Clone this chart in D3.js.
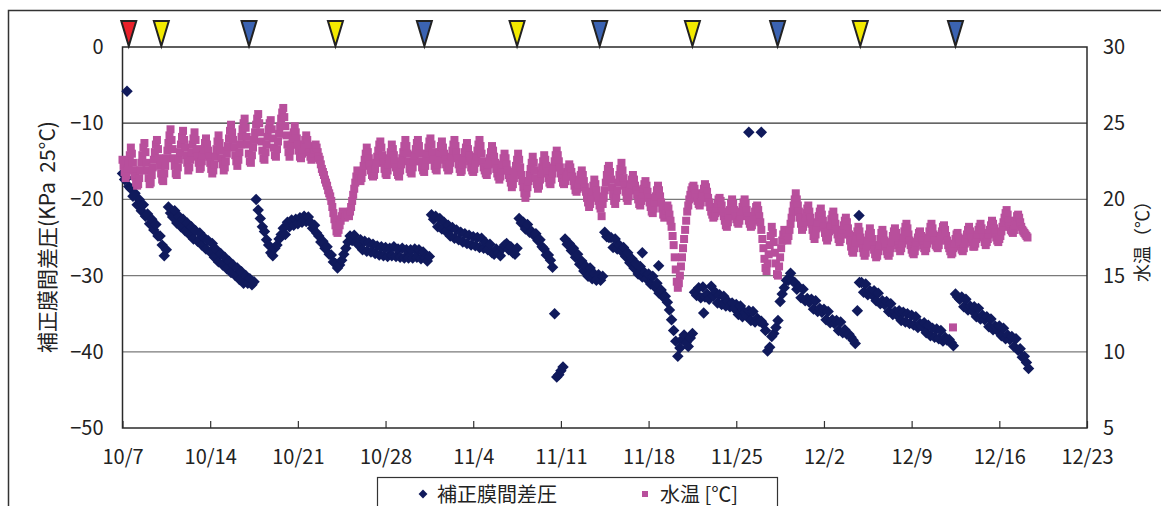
<!DOCTYPE html>
<html>
<head>
<meta charset="utf-8">
<script src="https://cdn.jsdelivr.net/npm/d3@7"></script>
<style>
  body { margin: 0; background: #fff; }
  text { font-family: "Noto Sans CJK JP", "Noto Sans", sans-serif; fill: #222; }
</style>
</head>
<body>
<svg id="chart" width="1161" height="506"></svg>
<script>
/* ---------- data ---------- */
const startDate = new Date(2009, 9, 7);    // 10/7
const endDate   = new Date(2009, 11, 23);  // 12/23
const pressureStepHours = 4;               // 6 readings per day
const tempStepHours     = 2;               // 12 readings per day

// 補正膜間差圧 [kPa], one row per day starting 10/7
const pressureByDay = [
  [-16.6, -17.4, -17.2, -18.3, -18.6, -19.6],
  [-19.2, -20.7, -20.0, -21.5, -20.7, -22.2],
  [-21.9, -23.2, -22.6, -24.0, -23.3, -24.8],
  [-24.8, -26.0, -27.4, -26.6, -21.0, -21.8],
  [-22.3, -21.5, -23.1, -22.2, -23.6, -22.6],
  [-24.1, -23.1, -24.6, -23.6, -25.2, -24.1],
  [-25.5, -24.4, -26.0, -25.0, -26.5, -25.4],
  [-26.9, -25.8, -27.6, -26.6, -28.2, -27.1],
  [-28.6, -27.6, -29.1, -28.1, -29.6, -28.6],
  [-30.0, -29.0, -30.5, -29.5, -31.0, -30.0],
  [-31.0, -30.4, -31.2, -30.8, -20.0, -21.4],
  [-22.5, -23.6, -24.2, -25.3, -26.0, -27.0],
  [-27.4, -26.4, -26.0, -25.2, -24.6, -23.8],
  [-24.6, -23.0, -23.6, -22.7, -23.4, -22.6],
  [-23.2, -22.4, -23.0, -22.2, -22.9, -22.3],
  [-23.0, -23.8, -23.4, -24.4, -24.8, -25.6],
  [-25.5, -26.4, -26.2, -27.2, -27.3, -28.2],
  [-28.4, -29.0, -28.6, -28.0, -27.2, -26.4],
  [-25.6, -24.8, -25.4, -24.7, -25.6, -26.0],
  [-25.3, -26.6, -25.5, -26.8, -25.7, -26.9],
  [-25.9, -27.1, -26.1, -27.3, -26.2, -27.4],
  [-26.3, -27.5, -26.4, -27.4, -26.2, -27.5],
  [-26.5, -27.6, -26.4, -27.7, -26.6, -27.7],
  [-26.6, -27.7, -26.5, -27.6, -26.6, -27.8],
  [-26.9, -27.7, -28.1, -27.5, -22.0, -22.6],
  [-22.2, -23.6, -22.5, -23.9, -23.0, -24.2],
  [-23.4, -24.8, -23.7, -25.1, -24.0, -25.3],
  [-24.3, -25.6, -24.5, -25.8, -24.7, -26.0],
  [-24.9, -26.1, -25.0, -26.3, -25.1, -26.4],
  [-25.7, -26.6, -25.9, -27.0, -27.2, -26.5],
  [-27.0, -27.4, -26.4, -26.0, -25.8, -26.6],
  [-26.2, -27.0, -27.2, -26.4, -22.5, -23.1],
  [-23.0, -23.9, -23.3, -24.3, -24.2, -24.7],
  [-24.5, -25.4, -25.3, -26.2, -26.5, -27.3],
  [-27.3, -28.0, -28.9, -35.0, -43.3, -43.0],
  [-42.5, -42.0, -25.2, -25.9, -25.8, -26.7],
  [-26.4, -27.6, -27.2, -28.5, -28.1, -29.4],
  [-28.8, -30.1, -29.0, -30.4, -29.8, -30.6],
  [-29.9, -30.6, -30.1, -24.3, -24.9, -25.0],
  [-25.0, -26.3, -25.2, -26.5, -26.0, -26.8],
  [-26.3, -27.5, -27.0, -28.3, -27.8, -29.0],
  [-28.4, -29.8, -28.8, -30.2, -29.6, -30.4],
  [-29.8, -31.1, -30.1, -31.5, -31.0, -32.3],
  [-31.9, -32.8, -32.7, -33.5, -34.5, -35.8],
  [-37.2, -38.6, -40.6, -39.5, -38.4, -37.8],
  [-38.8, -39.3, -38.2, -37.6, -32.2, -32.6],
  [-31.6, -32.9, -31.5, -32.8, -32.4, -33.1],
  [-31.4, -32.7, -32.2, -33.6, -32.5, -33.8],
  [-32.7, -34.0, -33.4, -34.1, -33.6, -34.3],
  [-33.8, -35.1, -34.0, -35.4, -34.8, -35.3],
  [-34.6, -35.9, -34.7, -36.1, -35.6, -36.0],
  [-36.0, -36.4, -37.2, -39.9, -39.4, -38.0],
  [-37.6, -36.8, -35.9, -33.4, -32.4, -31.6],
  [-30.6, -30.6, -29.7, -30.7, -30.9, -31.8],
  [-31.5, -32.9, -31.8, -33.3, -33.0, -33.5],
  [-33.1, -34.4, -33.3, -34.7, -34.3, -34.8],
  [-34.4, -35.8, -34.7, -36.2, -35.8, -36.3],
  [-35.9, -37.2, -36.1, -37.5, -37.1, -37.7],
  [-37.7, -38.1, -38.5, -38.9, -34.6, -30.9],
  [-30.9, -32.2, -31.1, -32.5, -32.0, -32.5],
  [-32.0, -33.3, -32.3, -33.7, -33.3, -33.8],
  [-33.4, -34.7, -33.7, -35.1, -34.7, -35.2],
  [-34.6, -35.9, -34.8, -36.1, -35.0, -36.3],
  [-35.2, -36.5, -35.4, -36.8, -36.3, -36.7],
  [-36.2, -37.5, -36.5, -37.9, -36.9, -38.1],
  [-37.0, -38.3, -37.2, -38.6, -38.1, -38.5],
  [-38.4, -38.8, -39.2, -32.4, -32.8, -33.1],
  [-32.8, -34.1, -33.1, -34.5, -34.0, -34.6],
  [-34.1, -35.4, -34.3, -35.7, -35.2, -35.8],
  [-35.4, -36.7, -35.7, -37.1, -36.6, -37.2],
  [-36.6, -37.9, -36.9, -38.3, -37.8, -38.4],
  [-38.0, -39.3, -38.3, -39.8, -39.6, -40.7],
  [-40.6, -41.4, -42.2]
];

// 水温 [℃], one row per day starting 10/7
const tempByDay = [
  [22.6, 22.2, 21.8, 21.4, 21.6, 22.0, 22.4, 22.9, 23.4, 23.0, 22.4, 21.9],
  [21.5, 21.1, 20.9, 21.0, 21.4, 21.9, 22.4, 22.9, 23.4, 23.7, 23.1, 22.4],
  [21.9, 21.4, 21.0, 21.1, 21.6, 22.1, 22.6, 23.1, 23.6, 23.9, 23.3, 22.7],
  [22.2, 21.7, 21.3, 21.2, 21.7, 22.2, 22.7, 23.2, 23.7, 24.2, 24.6, 23.9],
  [23.3, 22.7, 22.2, 21.7, 21.6, 22.1, 22.6, 23.1, 23.6, 24.1, 24.5, 23.9],
  [23.4, 22.9, 22.4, 21.9, 22.1, 22.6, 23.1, 23.6, 24.0, 24.4, 23.9, 23.3],
  [22.8, 22.4, 22.0, 22.1, 22.5, 22.9, 23.3, 23.7, 24.0, 23.6, 23.2, 22.8],
  [22.4, 22.0, 21.7, 21.9, 22.3, 22.8, 23.3, 23.8, 24.2, 23.7, 23.2, 22.7],
  [22.3, 21.9, 22.1, 22.5, 23.0, 23.5, 24.0, 24.5, 24.9, 24.4, 23.9, 23.4],
  [22.9, 22.5, 22.2, 22.6, 23.1, 23.6, 24.1, 24.6, 25.0, 25.3, 24.7, 24.1],
  [23.6, 23.0, 22.5, 22.4, 22.9, 23.4, 23.9, 24.4, 24.9, 25.3, 25.6, 25.0],
  [24.4, 23.8, 23.2, 22.7, 22.6, 23.1, 23.6, 24.1, 24.6, 25.0, 25.2, 24.6],
  [24.0, 23.4, 22.9, 22.8, 23.3, 23.8, 24.3, 24.8, 25.3, 25.7, 26.0, 25.4],
  [24.8, 24.2, 23.6, 23.1, 22.8, 23.2, 23.6, 24.0, 24.4, 24.8, 24.4, 24.0],
  [23.6, 23.2, 22.8, 22.7, 23.0, 23.3, 23.6, 23.9, 24.2, 23.9, 23.5, 23.1],
  [22.8, 22.6, 22.7, 23.0, 23.3, 23.6, 23.4, 23.1, 22.8, 22.6, 22.3, 22.0],
  [21.8, 21.6, 21.3, 21.1, 20.9, 20.6, 20.4, 20.2, 19.9, 19.5, 19.1, 18.7],
  [18.3, 17.9, 17.8, 18.0, 18.3, 18.6, 18.9, 19.2, 19.0, 18.8, 18.9, 19.1],
  [19.0, 18.9, 19.2, 19.5, 19.9, 20.3, 20.7, 21.1, 21.5, 21.9, 21.7, 21.4],
  [21.2, 21.4, 21.8, 22.2, 22.6, 23.0, 23.4, 23.1, 22.7, 22.3, 21.9, 21.6],
  [21.5, 21.6, 22.0, 22.4, 22.8, 23.2, 23.6, 23.8, 23.4, 22.9, 22.4, 22.0],
  [21.7, 21.6, 21.9, 22.3, 22.7, 23.1, 23.6, 23.3, 22.9, 22.5, 22.1, 21.8],
  [21.6, 21.5, 21.9, 22.3, 22.7, 23.1, 23.5, 23.9, 23.5, 23.0, 22.5, 22.0],
  [21.8, 21.7, 22.1, 22.5, 22.9, 23.3, 23.7, 23.9, 23.5, 23.0, 22.5, 22.1],
  [21.9, 21.8, 22.2, 22.6, 23.0, 23.4, 23.8, 24.0, 23.6, 23.1, 22.6, 22.2],
  [22.0, 21.9, 22.3, 22.7, 23.1, 23.5, 23.8, 23.4, 23.0, 22.6, 22.3, 22.1],
  [21.9, 22.0, 22.4, 22.8, 23.2, 23.6, 23.9, 23.5, 23.1, 22.7, 22.3, 22.0],
  [21.8, 21.9, 22.3, 22.7, 23.1, 23.4, 23.7, 23.3, 22.9, 22.5, 22.1, 21.9],
  [21.8, 22.0, 22.4, 22.8, 23.2, 23.6, 23.9, 23.5, 23.0, 22.5, 22.1, 21.9],
  [21.7, 21.6, 21.9, 22.3, 22.7, 23.1, 23.5, 23.2, 22.8, 22.4, 22.0, 21.7],
  [21.5, 21.3, 21.5, 21.9, 22.3, 22.7, 23.0, 22.7, 22.3, 21.9, 21.6, 21.4],
  [21.1, 20.8, 21.0, 21.4, 21.8, 22.2, 22.6, 23.0, 22.6, 22.1, 21.6, 21.2],
  [20.8, 20.4, 20.1, 20.4, 20.8, 21.2, 21.6, 22.0, 22.4, 22.8, 22.4, 21.9],
  [21.4, 21.0, 20.7, 20.9, 21.3, 21.7, 22.1, 22.5, 22.9, 22.6, 22.2, 21.8],
  [21.4, 21.1, 21.0, 21.3, 21.7, 22.1, 22.5, 22.9, 23.2, 22.9, 22.5, 22.1],
  [21.7, 21.4, 21.1, 21.0, 21.2, 21.5, 21.8, 22.1, 22.3, 22.1, 21.8, 21.5],
  [21.2, 20.9, 20.6, 20.5, 20.7, 21.0, 21.3, 21.6, 21.9, 21.6, 21.2, 20.8],
  [20.5, 20.1, 19.8, 19.5, 19.7, 20.1, 20.5, 20.9, 21.3, 21.0, 20.6, 20.2],
  [19.9, 19.6, 19.4, 18.9, 19.7, 20.1, 20.6, 21.1, 21.6, 22.0, 22.2, 21.8],
  [21.3, 20.8, 20.3, 19.9, 19.7, 20.1, 20.6, 21.1, 21.6, 22.0, 22.4, 21.9],
  [21.4, 20.9, 20.5, 20.1, 19.9, 20.2, 20.6, 21.0, 21.3, 21.6, 21.3, 20.9],
  [20.6, 20.3, 20.0, 19.7, 19.6, 19.9, 20.3, 20.7, 21.0, 21.2, 20.9, 20.5],
  [20.1, 19.8, 19.5, 19.2, 19.1, 19.4, 19.8, 20.2, 20.6, 20.9, 20.6, 20.2],
  [19.8, 19.4, 19.0, 18.8, 19.0, 19.3, 19.6, 19.4, 19.0, 18.6, 18.2, 17.6],
  [17.0, 16.2, 15.4, 14.6, 14.2, 14.5, 15.0, 15.6, 16.2, 16.8, 17.4, 18.0],
  [18.6, 19.2, 19.6, 20.0, 20.3, 20.6, 20.8, 20.9, 20.7, 20.4, 20.1, 19.9],
  [19.7, 19.6, 19.8, 20.1, 20.4, 20.7, 21.0, 20.8, 20.5, 20.1, 19.8, 19.5],
  [19.2, 19.0, 18.8, 18.9, 19.1, 19.4, 19.7, 20.0, 20.1, 19.9, 19.6, 19.2],
  [18.9, 18.6, 18.3, 18.2, 18.5, 18.9, 19.3, 19.7, 20.0, 19.7, 19.3, 18.9],
  [18.7, 18.5, 18.4, 18.6, 18.9, 19.2, 19.5, 19.8, 20.0, 19.7, 19.3, 18.9],
  [18.6, 18.4, 18.2, 18.3, 18.6, 18.9, 19.2, 19.5, 19.6, 19.3, 18.9, 18.5],
  [18.0, 17.4, 16.8, 16.1, 15.5, 15.3, 15.8, 16.4, 17.0, 17.6, 18.2, 17.8],
  [17.2, 16.5, 15.8, 15.1, 15.0, 15.6, 16.2, 16.8, 17.3, 17.7, 18.0, 17.8],
  [17.5, 17.3, 17.6, 18.0, 18.4, 18.8, 19.2, 19.6, 20.0, 20.4, 20.0, 19.6],
  [19.2, 18.8, 18.4, 18.0, 18.2, 18.5, 18.8, 19.1, 19.4, 19.6, 19.2, 18.8],
  [18.4, 18.0, 17.6, 17.4, 17.7, 18.1, 18.5, 18.9, 19.2, 19.4, 19.0, 18.6],
  [18.2, 17.8, 17.5, 17.3, 17.5, 17.9, 18.3, 18.7, 19.0, 19.2, 18.8, 18.4],
  [18.0, 17.7, 17.4, 17.2, 17.4, 17.7, 18.0, 18.3, 18.6, 18.8, 18.5, 18.1],
  [17.7, 17.3, 16.9, 16.6, 16.5, 16.8, 17.2, 17.6, 17.9, 18.2, 17.9, 17.5],
  [17.1, 16.8, 16.5, 16.3, 16.5, 16.9, 17.3, 17.7, 18.1, 17.8, 17.4, 17.0],
  [16.7, 16.4, 16.2, 16.3, 16.6, 17.0, 17.4, 17.8, 18.0, 17.7, 17.3, 16.9],
  [16.6, 16.4, 16.3, 16.5, 16.8, 17.2, 17.6, 17.9, 18.1, 17.8, 17.4, 17.0],
  [16.8, 16.6, 16.8, 17.1, 17.5, 17.9, 18.2, 18.4, 18.1, 17.7, 17.3, 17.0],
  [16.7, 16.5, 16.4, 16.6, 16.9, 17.2, 17.5, 17.8, 17.9, 17.6, 17.3, 17.0],
  [16.8, 16.6, 16.8, 17.1, 17.5, 17.9, 18.2, 18.4, 18.1, 17.7, 17.3, 17.0],
  [16.9, 16.8, 17.0, 17.3, 17.6, 17.9, 18.2, 18.3, 18.0, 17.6, 17.3, 17.0],
  [16.8, 16.6, 16.4, 16.5, 16.8, 17.1, 17.4, 17.7, 17.8, 17.5, 17.2, 16.9],
  [16.7, 16.6, 16.8, 17.1, 17.4, 17.7, 18.0, 18.2, 17.9, 17.5, 17.2, 16.9],
  [16.9, 17.1, 17.4, 17.7, 18.0, 18.2, 18.4, 18.1, 17.8, 17.5, 17.2, 17.0],
  [17.2, 17.4, 17.7, 18.0, 18.3, 18.6, 18.4, 18.1, 17.8, 17.5, 17.3, 17.2],
  [17.4, 17.6, 17.9, 18.2, 18.5, 18.8, 19.1, 19.3, 19.0, 18.6, 18.2, 18.0],
  [17.9, 17.8, 18.0, 18.3, 18.6, 18.9, 19.0, 18.8, 18.5, 18.2, 18.0, 17.9],
  [17.8, 17.7, 17.6, 17.5]
];

// isolated readings: [days after 10/7, value]
const pressureOutliers = [[0.36, -5.8], [41.5, -27.0], [42.8, -28.7], [46.4, -34.9],
                          [50.0, -11.2], [51.0, -11.2], [58.8, -22.1]];
const tempOutliers = [[66.3, 11.6]];

// event markers along the top: [days after 10/7], kind r/y/b
const markerDays  = [0.5, 3.1, 10.1, 17.0, 24.1, 31.5, 38.1, 45.5, 52.3, 58.9, 66.5];
const markerKinds = ["r", "y", "b", "y", "b", "y", "b", "y", "b", "y", "b"];

const leftTicks  = [0, -10, -20, -30, -40, -50];
const rightTicks = [30, 25, 20, 15, 10, 5];
const xTickDays  = [0, 7, 14, 21, 28, 35, 42, 49, 56, 63, 70, 77];

const seriesNames = ["補正膜間差圧", "水温 [℃]"];
const leftTitle  = "補正膜間差圧(KPa  25°C)";
const rightTitle = "水温（℃）";

/* ---------- layout ---------- */
const W = 1161, H = 506;
const plot = {left: 122.5, right: 1087, top: 47, bottom: 428};
const navy = "#101a5c", magenta = "#b84f9c";
const markerFill = {r: "#e8202a", y: "#f3ea00", b: "#3b63b2"};

const svg = d3.select("#chart");
svg.append("rect").attr("width", W).attr("height", H).attr("fill", "#fff");

// outer frame (runs past right / bottom edge as in the original)
svg.append("rect")
  .attr("x", 8.5).attr("y", 10.5).attr("width", 1200).attr("height", 520)
  .attr("fill", "none").attr("stroke", "#333").attr("stroke-width", 1.5);

const dayToDate = d => d3.timeMinute.offset(startDate, Math.round(d * 1440));

const x  = d3.scaleTime([startDate, endDate], [plot.left, plot.right]);
const yL = d3.scaleLinear([-50, 0], [plot.bottom, plot.top]);
const yR = d3.scaleLinear([5, 30], [plot.bottom, plot.top]);

/* ——— grid ——— */
svg.append("g").selectAll("line")
  .data(leftTicks.filter(v => v > -50 && v < 0))
  .join("line")
    .attr("x1", plot.left).attr("x2", plot.right)
    .attr("y1", d => yL(d)).attr("y2", d => yL(d))
    .attr("stroke", d => d === -10 ? "#333" : "#7a7a7a")
    .attr("stroke-width", 1.3);

/* ——— axes ——— */
const fmtMinus = d => d < 0 ? "\u2212" + Math.abs(d) : String(d);

const axL = svg.append("g")
  .attr("transform", `translate(${plot.left},0)`)
  .call(d3.axisLeft(yL).tickValues(leftTicks).tickSize(0).tickPadding(19).tickFormat(fmtMinus));
const axR = svg.append("g")
  .attr("transform", `translate(${plot.right},0)`)
  .call(d3.axisRight(yR).tickValues(rightTicks).tickSize(0).tickPadding(16));
const axB = svg.append("g")
  .attr("transform", `translate(0,${plot.bottom})`)
  .call(d3.axisBottom(x).tickValues(xTickDays.map(dayToDate))
          .tickSizeInner(-7).tickSizeOuter(0).tickPadding(22)
          .tickFormat(d3.timeFormat("%-m/%-d")));

[axL, axR, axB].forEach(g => {
  g.select(".domain").remove();
  g.selectAll("text").attr("font-size", 20).attr("fill", "#222")
    .attr("font-family", "'Noto Sans CJK JP', sans-serif");
  g.selectAll("line").attr("stroke", "#333").attr("stroke-width", 1.2);
});

// plot frame
svg.append("rect")
  .attr("x", plot.left).attr("y", plot.top)
  .attr("width", plot.right - plot.left).attr("height", plot.bottom - plot.top)
  .attr("fill", "none").attr("stroke", "#2a2a2a").attr("stroke-width", 1.5);

/* ——— series ——— */
const flatten = (rows, stepH) => rows.flatMap((vals, day) =>
  vals.map((v, k) => ({t: d3.timeHour.offset(startDate, day * 24 + k * stepH), v})));

const pressure = flatten(pressureByDay, pressureStepHours)
  .concat(pressureOutliers.map(([d, v]) => ({t: dayToDate(d), v})));
const temp = flatten(tempByDay, tempStepHours)
  .concat(tempOutliers.map(([d, v]) => ({t: dayToDate(d), v})));

// square rotated 45 degrees
const diamond = {
  draw(ctx, size) {
    const r = Math.sqrt(size) * 0.62625;
    ctx.moveTo(0, -r); ctx.lineTo(r, 0); ctx.lineTo(0, r); ctx.lineTo(-r, 0); ctx.closePath();
  }
};

svg.append("g").selectAll("path")
  .data(pressure)
  .join("path")
    .attr("d", d3.symbol(diamond, 84))
    .attr("transform", d => `translate(${x(d.t)},${yL(d.v)})`)
    .attr("fill", navy);

svg.append("g").selectAll("path")
  .data(temp)
  .join("path")
    .attr("d", d3.symbol(d3.symbolSquare, 64))
    .attr("transform", d => `translate(${x(d.t)},${yR(d.v)})`)
    .attr("fill", magenta);

/* ——— top event markers ——— */
svg.append("g").selectAll("path")
  .data(markerDays.map((d, i) => ({t: dayToDate(d), kind: markerKinds[i]})))
  .join("path")
    .attr("d", d => {
      const cx = x(d.t);
      return `M${cx - 7.5},21 L${cx + 7.5},21 L${cx},46 Z`;
    })
    .attr("fill", d => markerFill[d.kind])
    .attr("stroke", "#222").attr("stroke-width", 2).attr("stroke-linejoin", "miter");

/* ——— axis titles ——— */
svg.append("text")
  .attr("transform", "translate(46,237) rotate(-90)")
  .attr("text-anchor", "middle").attr("dominant-baseline", "central")
  .attr("font-size", 21).style("white-space", "pre")
  .text(leftTitle);

svg.append("text")
  .attr("transform", "translate(1141,237) rotate(-90)")
  .attr("text-anchor", "middle").attr("dominant-baseline", "central")
  .attr("font-size", 18)
  .text(rightTitle);

/* ——— legend ——— */
const lg = svg.append("g");
lg.append("rect")
  .attr("x", 377.5).attr("y", 477.5).attr("width", 400).attr("height", 40)
  .attr("fill", "#fff").attr("stroke", "#333").attr("stroke-width", 1.2);
lg.append("path").attr("d", d3.symbol(diamond, 50))
  .attr("transform", "translate(423,494)").attr("fill", navy);
lg.append("text").attr("x", 437).attr("y", 493)
  .attr("dominant-baseline", "central").attr("font-size", 20).text(seriesNames[0]);
lg.append("path").attr("d", d3.symbol(d3.symbolSquare, 36))
  .attr("transform", "translate(645,494)").attr("fill", magenta);
lg.append("text").attr("x", 660).attr("y", 493)
  .attr("dominant-baseline", "central").attr("font-size", 20).text(seriesNames[1]);
</script>
</body>
</html>
